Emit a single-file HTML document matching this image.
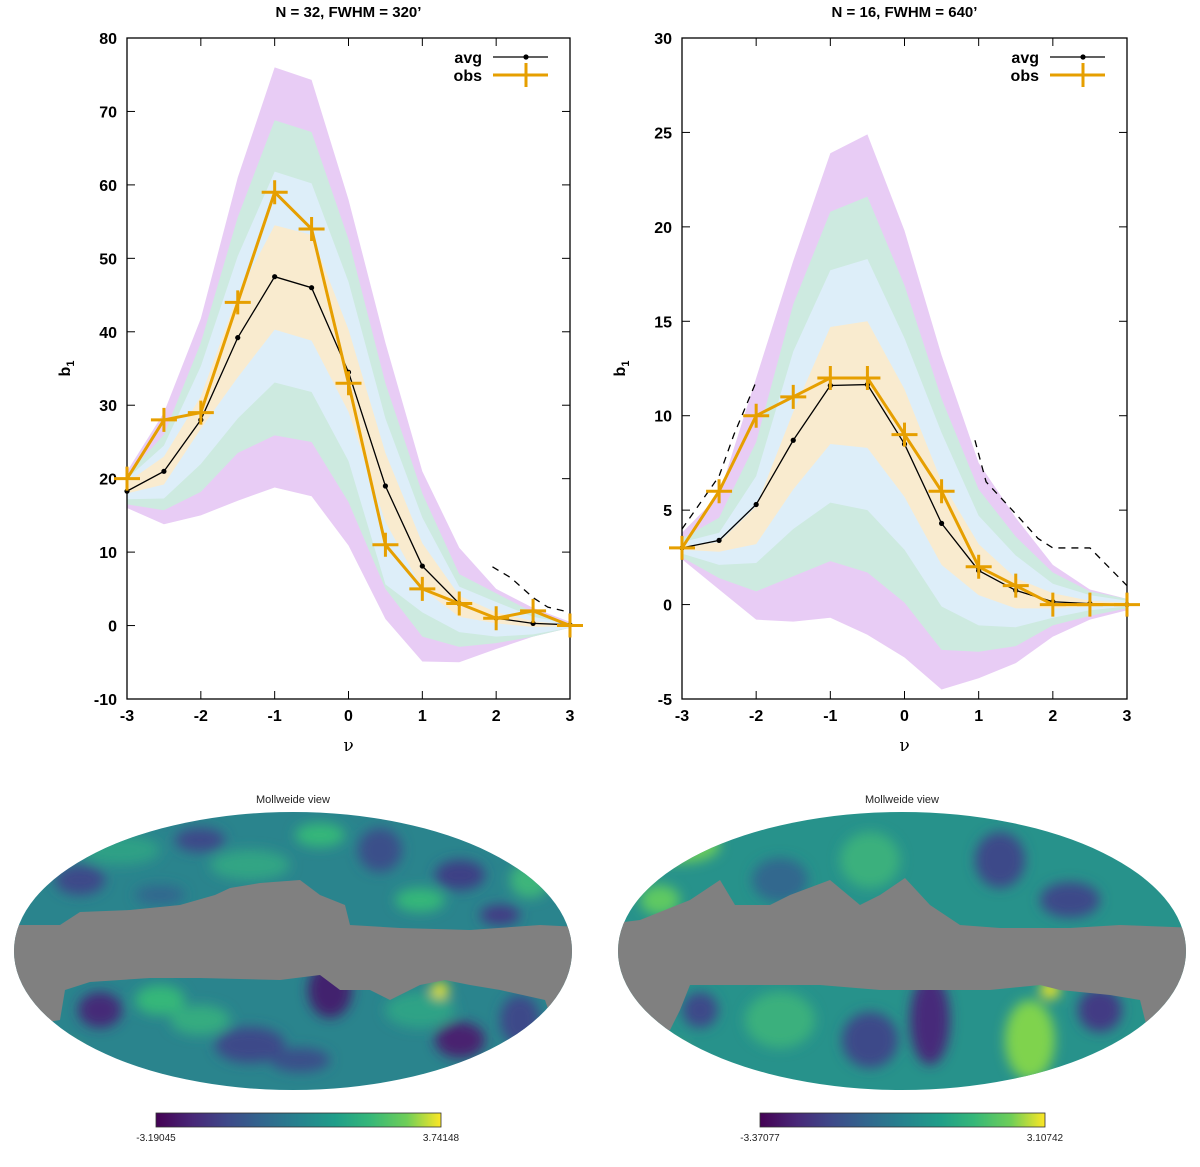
<!DOCTYPE html>
<html><head><meta charset="utf-8"><style>
body{margin:0;background:#fff;}
svg{display:block;font-family:"Liberation Sans",sans-serif;}
</style></head><body>
<svg id="root" width="1200" height="1167" viewBox="0 0 1200 1167" xmlns="http://www.w3.org/2000/svg">
<defs>
<clipPath id="clipL"><ellipse cx="293" cy="951" rx="279" ry="139"/></clipPath>
<clipPath id="clipR"><ellipse cx="902" cy="951" rx="284" ry="139"/></clipPath>
<filter id="blur" x="-50%" y="-50%" width="200%" height="200%"><feGaussianBlur stdDeviation="6"/></filter>
<linearGradient id="viridis" x1="0" x2="1" y1="0" y2="0">
<stop offset="0" stop-color="#440154"/><stop offset="0.13" stop-color="#482878"/><stop offset="0.25" stop-color="#3e4989"/><stop offset="0.38" stop-color="#31688e"/><stop offset="0.5" stop-color="#26828e"/><stop offset="0.63" stop-color="#1f9e89"/><stop offset="0.75" stop-color="#35b779"/><stop offset="0.88" stop-color="#6ece58"/><stop offset="1" stop-color="#fde725"/>
</linearGradient>
</defs>
<g id="chartL"></g>
<g id="chartR"></g>

<g>
<text x="293" y="803" font-size="11" text-anchor="middle" fill="#222">Mollweide view</text>
<g clip-path="url(#clipL)">
<rect x="10" y="810" width="570" height="285" fill="#2a848d"/>
<g filter="url(#blur)">
<ellipse cx="120" cy="850" rx="40" ry="15" fill="#2fa085"/>
<ellipse cx="200" cy="840" rx="25" ry="12" fill="#3e4a89"/>
<ellipse cx="250" cy="865" rx="40" ry="15" fill="#33a584"/>
<ellipse cx="320" cy="835" rx="25" ry="12" fill="#35b779"/>
<ellipse cx="380" cy="850" rx="22" ry="22" fill="#3b4f8a"/>
<ellipse cx="460" cy="875" rx="25" ry="15" fill="#3c3f85"/>
<ellipse cx="80" cy="880" rx="25" ry="15" fill="#3e4a89"/>
<ellipse cx="160" cy="895" rx="25" ry="10" fill="#31688e"/>
<ellipse cx="420" cy="900" rx="25" ry="12" fill="#35b779"/>
<ellipse cx="530" cy="880" rx="20" ry="18" fill="#3db57a"/>
<ellipse cx="500" cy="915" rx="20" ry="10" fill="#433a84"/>
<ellipse cx="330" cy="990" rx="22" ry="28" fill="#43206e"/>
<ellipse cx="100" cy="1010" rx="22" ry="18" fill="#452a78"/>
<ellipse cx="160" cy="1000" rx="25" ry="15" fill="#35b779"/>
<ellipse cx="250" cy="1045" rx="35" ry="18" fill="#3e4a89"/>
<ellipse cx="300" cy="1060" rx="30" ry="12" fill="#3b4f8a"/>
<ellipse cx="460" cy="1040" rx="25" ry="18" fill="#482070"/>
<ellipse cx="60" cy="1060" rx="22" ry="16" fill="#8ad44a"/>
<ellipse cx="200" cy="1020" rx="30" ry="15" fill="#34ac80"/>
<ellipse cx="420" cy="1010" rx="35" ry="18" fill="#2fa386"/>
<ellipse cx="520" cy="1020" rx="20" ry="25" fill="#3e4a89"/>
<ellipse cx="440" cy="990" rx="9" ry="8" fill="#e8e42a"/>
</g>
<polygon fill="#808080" points="0,925 60,925 80,912 130,910 180,905 215,895 230,888 260,883 300,880 320,895 345,905 350,925 400,928 470,930 540,925 600,928 600,1060 560,1045 545,1000 500,990 470,985 445,980 420,985 390,1000 370,990 340,990 320,975 280,980 200,978 150,978 90,982 65,990 60,1020 0,1030"/>
</g>
</g>
<g>
<text x="902" y="803" font-size="11" text-anchor="middle" fill="#222">Mollweide view</text>
<g clip-path="url(#clipR)">
<rect x="610" y="810" width="585" height="285" fill="#27928b"/>
<g filter="url(#blur)">
<ellipse cx="680" cy="845" rx="40" ry="18" fill="#6ccd5a"/>
<ellipse cx="870" cy="860" rx="30" ry="28" fill="#3bb07d"/>
<ellipse cx="1000" cy="860" rx="25" ry="28" fill="#3d4a89"/>
<ellipse cx="780" cy="880" rx="28" ry="22" fill="#31688e"/>
<ellipse cx="1070" cy="900" rx="30" ry="18" fill="#3e4a89"/>
<ellipse cx="660" cy="900" rx="20" ry="15" fill="#5ec962"/>
<ellipse cx="930" cy="1020" rx="20" ry="45" fill="#472a7a"/>
<ellipse cx="780" cy="1020" rx="35" ry="28" fill="#3bb07d"/>
<ellipse cx="1030" cy="1040" rx="25" ry="40" fill="#7fd34e"/>
<ellipse cx="660" cy="1060" rx="28" ry="16" fill="#dde318"/>
<ellipse cx="1100" cy="1010" rx="22" ry="22" fill="#433a84"/>
<ellipse cx="870" cy="1040" rx="28" ry="28" fill="#3e4a89"/>
<ellipse cx="700" cy="1010" rx="18" ry="18" fill="#3e4a89"/>
<ellipse cx="1050" cy="990" rx="10" ry="9" fill="#e8e42a"/>
</g>
<polygon fill="#808080" points="600,925 640,920 690,900 720,880 735,905 770,905 790,895 830,880 860,905 880,895 905,878 930,905 960,925 1000,928 1070,928 1120,925 1200,928 1200,1060 1150,1040 1140,1000 1110,995 1060,990 1040,985 990,990 950,990 920,990 880,990 820,985 760,985 690,985 680,1010 670,1030 600,1040"/>
</g>
</g>
<rect x="156" y="1113" width="285" height="14" fill="url(#viridis)" stroke="#333" stroke-width="0.8"/>
<text x="156" y="1141" font-size="10" text-anchor="middle" fill="#222">-3.19045</text>
<text x="441" y="1141" font-size="10" text-anchor="middle" fill="#222">3.74148</text>
<rect x="760" y="1113" width="285" height="14" fill="url(#viridis)" stroke="#333" stroke-width="0.8"/>
<text x="760" y="1141" font-size="10" text-anchor="middle" fill="#222">-3.37077</text>
<text x="1045" y="1141" font-size="10" text-anchor="middle" fill="#222">3.10742</text>
</svg>
<script>
const nuValues = [-3,-2.5,-2,-1.5,-1,-0.5,0,0.5,1,1.5,2,2.5,3];
const xTicks = [-3,-2,-1,0,1,2,3];

const L_yTicks = [-10,0,10,20,30,40,50,60,70,80];
const L_purpleTop = [21,29,41.8,61,76,74.3,58,38.5,21,10.6,5,2.4,0.5];
const L_greenTop  = [20.5,26,38.5,55.6,68.8,67.2,52.6,33,18,7,4.4,1.8,0.3];
const L_blueTop   = [20,24.5,35.3,50.3,61.8,60.2,46.8,28.2,14.7,5.3,3.2,1.2,0.2];
const L_orangeTop = [19.5,23,31.2,45,54.5,53.2,40.3,23.5,11.2,4.1,1.8,0.6,0.1];
const L_orangeBot = [18,19.2,26.8,33.8,40.3,38.8,29.1,14.1,5,1.2,0.3,-0.2,-0.1];
const L_blueBot   = [17.2,17.3,22,28.2,33.1,31.8,22.4,5.6,1.8,-0.9,-1.5,-1.2,-0.3];
const L_greenBot  = [16.5,15.7,18.2,23.5,25.9,25,16.8,5,-1.5,-2.9,-2.4,-1.5,-0.3];
const L_purpleBot = [16,13.8,15,17,18.8,17.6,10.9,0.9,-4.9,-5,-3.2,-1.5,-0.3];
const L_avg = [18.3,21,28,39.2,47.5,46,34.5,19,8.1,3,1,0.3,0.1];
const L_obs = [20,28,29,44,59,54,33,11,5,3,1,2,0];
const L_dashX = [1.95,2.2,2.5,2.7,3];
const L_dashY = [8,6.5,3.8,2.5,1.8];

const R_yTicks = [-5,0,5,10,15,20,25,30];
const R_purpleTop = [3.8,5.8,12,18.2,23.9,24.9,19.8,13.2,7.5,4.6,2.1,0.8,0.3];
const R_greenTop  = [3.5,4.6,8.6,15.9,20.8,21.6,16.9,10.9,6.1,3.6,1.7,0.7,0.3];
const R_blueTop   = [3.3,3.8,6.8,13.4,17.7,18.3,14.1,9.1,4.7,2.6,1.1,0.5,0.2];
const R_orangeTop = [3.1,3.3,5.2,10.2,14.7,15,11.4,6.5,3.2,1.4,0.6,0.2,0.1];
const R_orangeBot = [2.9,2.8,3.2,6.1,8.5,8.3,5.7,2.1,0.5,-0.2,-0.2,-0.1,0];
const R_blueBot   = [2.7,2.1,2.2,4,5.4,5,2.9,-0.1,-1.1,-1.2,-0.7,-0.3,-0.1];
const R_greenBot  = [2.5,1.4,0.7,1.5,2.3,1.7,0.1,-2.4,-2.5,-2.2,-1.1,-0.6,-0.2];
const R_purpleBot = [2.4,0.8,-0.8,-0.9,-0.7,-1.6,-2.8,-4.5,-3.9,-3.1,-1.7,-0.8,-0.3];
const R_avg = [3,3.4,5.3,8.7,11.6,11.65,8.5,4.3,1.8,0.75,0.15,0.05,0];
const R_obs = [3,6,10,11,12,12,9,6,2,1,0,0,0];
const R_dashX = [-3,-2.5,-2.3,-2];
const R_dashY = [4,6.8,9,11.8];
const R_dash2X = [0.95,1.1,1.5,1.8,2,2.5,3];
const R_dash2Y = [8.7,6.5,4.8,3.5,3,3,1];

const NS = 'http://www.w3.org/2000/svg';
function mk(parent, tag, attrs){
  const e = document.createElementNS(NS, tag);
  for (const k in attrs) e.setAttribute(k, attrs[k]);
  parent.appendChild(e);
  return e;
}

function drawChart(g, o){
  const sx = v => o.x0 + (v - (-3)) / 6 * (o.x1 - o.x0);
  const sy = v => o.y1 - (v - o.ymin) / (o.ymax - o.ymin) * (o.y1 - o.y0);
  const band = (top, bot, fill, name) => {
    let pts = nuValues.map((v,i)=>sx(v)+','+sy(top[i]));
    for (let i=nuValues.length-1;i>=0;i--) pts.push(sx(nuValues[i])+','+sy(bot[i]));
    const p = mk(g,'polygon',{points:pts.join(' '),fill:fill});
    
    
  };
  band(o.pT,o.pB,'#e8ccf5','band-purple');
  band(o.gT,o.gB,'#cdeae0','band-green');
  band(o.bT,o.bB,'#ddeef9','band-blue');
  band(o.oT,o.oB,'#f9ebcf','band-orange');
  o.dashes.forEach(d=>{
    const l = mk(g,'polyline',{points:d[0].map((x,i)=>sx(x)+','+sy(d[1][i])).join(' '),fill:'none',stroke:'#000','stroke-width':1.3,'stroke-dasharray':'7,6'});
    
    
  });
  const fr = mk(g,'rect',{x:o.x0,y:o.y0,width:o.x1-o.x0,height:o.y1-o.y0,fill:'none',stroke:'#000','stroke-width':1.3});
  
  
  xTicks.forEach(t=>{
    const x=sx(t);
    mk(g,'line',{x1:x,x2:x,y1:o.y1,y2:o.y1-8,stroke:'#000','stroke-width':1});
    mk(g,'line',{x1:x,x2:x,y1:o.y0,y2:o.y0+8,stroke:'#000','stroke-width':1});
    const tx = mk(g,'text',{x:x,y:o.y1+22,'font-size':16,'font-weight':'bold','text-anchor':'middle'});
    tx.textContent = t;
    
    
  });
  o.yTicks.forEach(t=>{
    const y=sy(t);
    mk(g,'line',{x1:o.x0,x2:o.x0+8,y1:y,y2:y,stroke:'#000','stroke-width':1});
    mk(g,'line',{x1:o.x1,x2:o.x1-8,y1:y,y2:y,stroke:'#000','stroke-width':1});
    const tx = mk(g,'text',{x:o.x0-10,y:y+6,'font-size':16,'font-weight':'bold','text-anchor':'end'});
    tx.textContent = t;
    
    
  });
  const al = mk(g,'polyline',{points:nuValues.map((v,i)=>sx(v)+','+sy(o.avg[i])).join(' '),fill:'none',stroke:'#000','stroke-width':1.3});
  
  
  nuValues.forEach((v,i)=>{
    const c = mk(g,'circle',{cx:sx(v),cy:sy(o.avg[i]),r:2.6,fill:'#000'});
    
    
  });
  const ol = mk(g,'polyline',{points:nuValues.map((v,i)=>sx(v)+','+sy(o.obs[i])).join(' '),fill:'none',stroke:'#e69f00','stroke-width':3,'stroke-linejoin':'round'});
  
  
  nuValues.forEach((v,i)=>{
    const x=sx(v), y=sy(o.obs[i]);
    const p = mk(g,'path',{d:`M${x-13},${y}H${x+13}M${x},${y-12}V${y+12}`,stroke:'#e69f00','stroke-width':3});
    
    
  });
  const lx = o.x1-22;
  const t1 = mk(g,'text',{x:lx-66,y:o.y0+25,'font-size':16,'font-weight':'bold','text-anchor':'end'});
  t1.textContent='avg';
  
  
  mk(g,'line',{x1:lx-55,x2:lx,y1:o.y0+19,y2:o.y0+19,stroke:'#000','stroke-width':1.3});
  mk(g,'circle',{cx:lx-22,cy:o.y0+19,r:2.6,fill:'#000'});
  const t2 = mk(g,'text',{x:lx-66,y:o.y0+43,'font-size':16,'font-weight':'bold','text-anchor':'end'});
  t2.textContent='obs';
  
  
  mk(g,'path',{d:`M${lx-55},${o.y0+37}H${lx}M${lx-22},${o.y0+25}V${o.y0+49}`,stroke:'#e69f00','stroke-width':3});
  const tt = mk(g,'text',{x:(o.x0+o.x1)/2,y:17,'font-size':15,'font-weight':'bold','text-anchor':'middle'});
  tt.textContent = o.title;
  
  
  const xl = mk(g,'text',{x:(o.x0+o.x1)/2,y:751,'font-size':17,'text-anchor':'middle','font-family':'DejaVu Serif, serif'});
  xl.textContent = 'ν';
  
  
  const yl = mk(g,'text',{x:0,y:0,'font-size':16,'font-weight':'bold','text-anchor':'middle',transform:`translate(${o.x0-57},${(o.y0+o.y1)/2}) rotate(-90)`});
  yl.innerHTML = 'b<tspan font-size="11" dy="4">1</tspan>';
  
  
}

drawChart(document.getElementById('chartL'), {
  x0:127,x1:570,y0:38,y1:699,ymin:-10,ymax:80,yTicks:L_yTicks,title:'N = 32, FWHM = 320\u2019',
  pT:L_purpleTop,pB:L_purpleBot,gT:L_greenTop,gB:L_greenBot,bT:L_blueTop,bB:L_blueBot,oT:L_orangeTop,oB:L_orangeBot,
  avg:L_avg,obs:L_obs,dashes:[[L_dashX,L_dashY]]
});
drawChart(document.getElementById('chartR'), {
  x0:682,x1:1127,y0:38,y1:699,ymin:-5,ymax:30,yTicks:R_yTicks,title:'N = 16, FWHM = 640\u2019',
  pT:R_purpleTop,pB:R_purpleBot,gT:R_greenTop,gB:R_greenBot,bT:R_blueTop,bB:R_blueBot,oT:R_orangeTop,oB:R_orangeBot,
  avg:R_avg,obs:R_obs,dashes:[[R_dashX,R_dashY],[R_dash2X,R_dash2Y]]
});
</script>
</body></html>
